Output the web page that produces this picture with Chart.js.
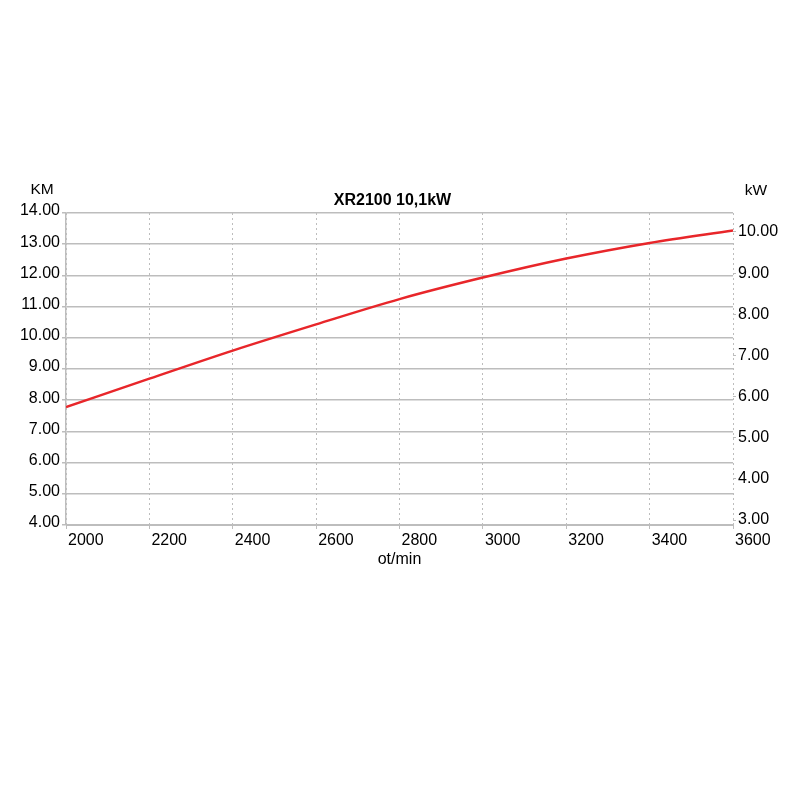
<!DOCTYPE html>
<html>
<head>
<meta charset="utf-8">
<script src="https://cdn.jsdelivr.net/npm/chart.js@4.4.1/dist/chart.umd.min.js"></script>
<style>
html,body{margin:0;padding:0;background:#fff;}
#wrap{width:800px;height:800px;position:relative;}
</style>
</head>
<body>
<div id="wrap"><canvas id="c" width="800" height="800"></canvas></div>
<script>
const chartTitle = "XR2100 10,1kW";
const xTitle = "ot/min";
const leftTitle = "KM";
const rightTitle = "kW";
const rpm = [2000, 2200, 2400, 2600, 2800, 3000, 3200, 3400, 3600];
const powerKM = [7.78, 8.69, 9.59, 10.43, 11.24, 11.93, 12.54, 13.04, 13.44];
const kmTicks = [4, 5, 6, 7, 8, 9, 10, 11, 12, 13, 14];
const kwTicks = [3, 4, 5, 6, 7, 8, 9, 10];
const kwRange = [2.88, 10.46];

const FONT = "'Liberation Sans', Arial, sans-serif";
const gridCol = '#bdbdbd';

const textPlugin = {
  id: 'texts',
  afterDraw(chart) {
    const ctx = chart.ctx;
    const a = chart.chartArea;
    ctx.save();
    ctx.fillStyle = '#000';
    ctx.textBaseline = 'middle';
    ctx.font = "bold 16px " + FONT;
    ctx.textAlign = 'center';
    ctx.fillText(chartTitle, (a.left + a.right) / 2 - 7, a.top - 12);
    ctx.font = "15.5px " + FONT;
    ctx.fillText(leftTitle, a.left - 24, a.top - 23);
    ctx.fillText(rightTitle, a.right + 23, a.top - 22);
    ctx.font = "16px " + FONT;
    ctx.fillText(xTitle, (a.left + a.right) / 2, a.bottom + 35);
    ctx.restore();
  }
};

new Chart(document.getElementById('c'), {
  type: 'line',
  data: {
    datasets: [{
      data: rpm.map((r, i) => ({x: r, y: powerKM[i]})),
      borderColor: '#e8262a',
      borderWidth: 2.5,
      pointRadius: 0,
      cubicInterpolationMode: 'monotone',
      fill: false,
      yAxisID: 'y'
    }]
  },
  options: {
    responsive: false,
    animation: false,
    devicePixelRatio: 1,
    layout: {padding: {top: 213, bottom: 225, left: 0, right: 0}},
    plugins: {legend: {display: false}, tooltip: {enabled: false}, title: {display: false}},
    scales: {
      x: {
        type: 'linear',
        min: 2000, max: 3600,
        afterBuildTicks: s => { s.ticks = rpm.map(v => ({value: v})); },
        afterFit: s => { s.height = 50; },
        grid: {color: gridCol, lineWidth: 1, tickLength: 4, drawTicks: true},
        border: {display: true, color: gridCol, dash: [2, 3]},
        ticks: {font: {size: 16, family: FONT}, color: '#000', align: 'start', padding: 2, labelOffset: 2, maxRotation: 0, autoSkip: false, callback: v => String(v)}
      },
      y: {
        position: 'left',
        min: 4, max: 14,
        afterBuildTicks: s => { s.ticks = kmTicks.map(v => ({value: v})); },
        afterFit: s => { s.width = 66; },
        grid: {color: gridCol, lineWidth: 1.5, tickLength: 4},
        border: {display: true, color: gridCol, width: 1.5},
        ticks: {font: {size: 16, family: FONT}, color: '#000', padding: 2, labelOffset: -2, callback: v => v.toFixed(2)}
      },
      y2: {
        position: 'right',
        min: kwRange[0], max: kwRange[1],
        afterBuildTicks: s => { s.ticks = kwTicks.map(v => ({value: v})); },
        afterFit: s => { s.width = 67; },
        grid: {display: true, drawOnChartArea: false, color: gridCol, tickLength: 3},
        border: {display: false},
        ticks: {font: {size: 16, family: FONT}, color: '#000', padding: 2, callback: v => v.toFixed(2)}
      }
    }
  },
  plugins: [textPlugin]
});
</script>
</body>
</html>
